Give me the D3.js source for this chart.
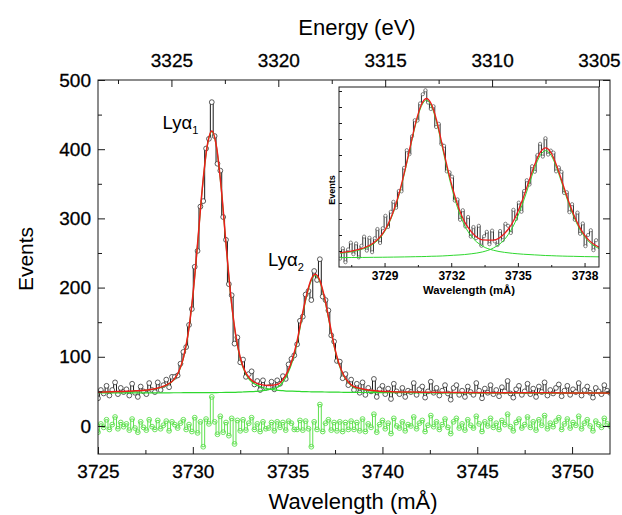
<!DOCTYPE html>
<html><head><meta charset="utf-8">
<script src="https://cdn.jsdelivr.net/npm/d3@7"></script>
<style>body{margin:0;background:#fff} svg text{font-family:"Liberation Sans",Arial,sans-serif}</style>
</head><body><svg id="c" width="622" height="515"></svg>
<script>
// ---------- main spectrum (wavelength grid: start + step, mÅ) ----------
const dataStart = 3725.0, dataStep = 0.15;
const events = [
 40,52,47,58,44,52,63,46,55,49, 53,44,61,48,42,57,50,46,62,52,
 49,63,52,59,67,56,71,71,73,90, 107,114,146,169,230,253,317,325,401,415,
 468,419,379,369,302,269,205,189,119,128, 92,96,71,75,79,60,65,52,66,55,
 56,64,53,66,61,72,68,89,97,102, 118,152,158,190,195,182,224,211,241,187,
 182,167,131,122,94,93,69,75,59,67, 52,61,48,63,45,55,50,68,42,53,
 58,46,54,39,61,50,46,55,42,51, 49,62,45,53,57,41,50,64,48,55,
 44,51,59,47,38,55,59,45,51,42, 57,49,45,62,51,40,54,48,59,46,
 52,43,56,50,65,47,41,53,58,45, 50,61,46,54,42,57,49,63,44,52,
 47,55,60,43,51,58,45,53,49,62, 44,52,57,48,41,55,50,46,59,51, 48];
const residuals = [
 -9,3,-2,9,-5,2,13,-4,5,-1, 3,-6,10,-3,-9,6,-2,-6,9,-1,
 -5,8,-4,1,7,-7,6,2,-3,4, 9,-5,2,-8,12,-10,6,-30,10,3,
 42,6,-12,14,-9,5,-14,11,-26,8, -7,9,-6,4,12,-5,3,-8,6,-4,
 -3,5,-7,6,-2,5,-6,7,4,-5, -5,8,-6,7,-4,-30,6,-5,31,-8,
 4,9,-6,5,-7,6,-8,5,-5,7, -5,5,-7,10,-8,3,-2,17,-9,2,
 8,-4,4,-11,11,0,-3,6,-7,2, 0,13,-4,4,8,-8,1,15,-1,6,
 -5,2,10,-2,-11,6,11,-3,3,-6, 9,1,-3,14,3,-8,6,0,11,-2,
 4,-5,8,2,17,-1,-7,5,10,-3, 2,13,-2,6,-6,9,1,15,-4,4,
 -1,7,12,-5,3,10,-3,5,1,14, -4,4,9,0,-7,7,2,-2,11,3, 0];
const fitLambda = [3725,3726,3727,3727.5,3728,3728.5,3729,3729.25,3729.5,3729.75,3730,3730.25,3730.5,3730.75,3731,3731.25,3731.5,3731.75,3732,3732.25,3732.5,3732.75,3733,3733.5,3734,3734.5,3734.75,3735,3735.25,3735.5,3735.75,3736,3736.25,3736.45,3736.7,3736.95,3737.2,3737.45,3737.7,3737.95,3738.2,3738.45,3738.95,3739.45,3740.5,3742,3744,3746,3748,3750,3752];
const fitTotal = [48.7,49.7,50.8,51.8,53.9,57.9,67,78,98.1,133.1,188.1,263.2,343.2,403.2,426.3,403.3,343.4,263.5,188.6,133.7,99,79.2,68.5,60.5,58.5,60.5,67,78.5,96.3,123,157.7,189.5,212.4,219.3,210.2,185.1,151,116.9,90.8,73.7,63.6,57.5,53.4,51.3,49.6,48.9,48.4,48.1,47.9,47.8,47.7];
const fitPeak1 = [48.5,49.5,50.5,51.5,53.5,57.5,66.5,77.5,97.5,132.5,187.5,262.5,342.5,402.5,425.5,402.5,342.5,262.5,187.5,132.5,97.5,77.5,66.5,57.5,53.5,51.5,51,50.5,50.3,50,49.7,49.5,49.4,49.3,49.2,49.1,49,48.9,48.8,48.7,48.6,48.5,48.4,48.3,48.1,47.9,47.8,47.7,47.6,47.6,47.5];
const fitPeak2 = [47.7,47.7,47.8,47.8,47.9,47.9,48,48,48.1,48.1,48.1,48.2,48.2,48.2,48.3,48.3,48.4,48.5,48.6,48.7,49,49.2,49.5,50.5,52.5,56.5,63.5,75.5,93.5,120.5,155.5,187.5,210.5,217.5,208.5,183.5,149.5,115.5,89.5,72.5,62.5,56.5,52.5,50.5,49,48.5,48.1,47.9,47.8,47.7,47.7];

const xMajor = [3725,3730,3735,3740,3745,3750];
const xMinor = [3727.5,3732.5,3737.5,3742.5,3747.5];
const yMajor = [0,100,200,300,400,500];
const yMinor = [50,150,250,350,450];
const eMajor = [3325,3320,3315,3310,3305];
const eMinor = [3327.5,3322.5,3317.5,3312.5,3307.5];

// ---------- inset spectrum ----------
const insetStart = 3727.0, insetStep = 0.12;
const insetEvents = [
 41,67,32,64,81,52,79,44,73,96, 61,93,57,92,115,80,117,148,120,158,
 183,168,210,209,268,312,302,347,387,386, 429,452,462,431,415,422,370,378,327,323,
 259,257,246,186,189,138,162,121,145,96, 120,92,123,73,97,108,77,111,84,75,
 110,87,128,123,105,163,140,181,158,210, 237,226,272,258,300,328,296,342,301,311,
 306,259,269,258,205,207,157,177,138,156, 103,129,72,100,112,62,87];
const insetFitLambda = [3727.0,3727.5,3728.0,3728.5,3728.9,3729.15,3729.4,3729.65,3729.9,3730.15,3730.4,3730.65,3730.88,3731.1,3731.35,3731.6,3731.85,3732.1,3732.35,3732.6,3732.9,3733.4,3733.9,3734.4,3734.75,3735.0,3735.25,3735.5,3735.75,3736.0,3736.25,3736.5,3736.75,3737.0,3737.25,3737.5,3737.75,3738.0,3738.25,3738.65];
const insetFitTotal = [55.7,59.5,66.4,79.8,102.1,126,159.4,203,258.2,320,380.4,425,441.3,427.8,385.1,324.1,263.4,209.3,165.8,133.1,108.3,88,87.4,103.6,130.1,158.7,194.2,235.1,275.3,306.1,317.7,304.9,272.7,231.3,189.2,152.4,122.2,99.8,84,69.6];
const insetFitPeak1 = [54.2,57.8,64.5,77.6,99.7,123.4,156.6,200,255,316.5,376.6,421,437,423,380,318.5,257,202,157.7,124,97.3,72.4,61.8,56.6,54.2,53,51.9,51.1,50.3,49.5,48.7,48.3,47.7,47.3,46.9,46.7,46.3,46,45.8,45.4];
const insetFitPeak2 = [43.5,43.7,43.9,44.2,44.4,44.6,44.8,45,45.2,45.5,45.8,46,46.3,46.8,47.1,47.6,48.4,49.3,50.1,51.1,53,57.6,67.6,89,117.9,147.7,184.3,226,267,298.6,311,298.6,267,226,184.3,147.7,117.9,95.8,80.2,66.2];
const insetXTicks = [3729,3732,3735,3738];
const insetXMinor = [3727.5,3730.5,3733.5,3736.5];
const insetYTicks = [60,100,140,180,220,260,300,340,380,420,460];

// ---------- drawing ----------
const svg = d3.select("#c");
const M = {l:98, r:610, t:80, b:454};
const x = d3.scaleLinear().domain([3725,3752]).range([M.l,M.r]);
const y = d3.scaleLinear().domain([-40.5,500]).range([M.b,M.t]);
const hc = 12398.42; // eV·Å
const xE = d3.scaleLinear().domain([hc/3.725, hc/3.752]).range([M.l,M.r]);

const RED = "#ee1c1c", GREEN = "#2fd82f", RGREEN = "#5fe04f", INK = "#1a1a1a";

svg.append("defs").append("clipPath").attr("id","clipMain")
  .append("rect").attr("x",M.l).attr("y",M.t).attr("width",M.r-M.l).attr("height",M.b-M.t);

const plot = svg.append("g").attr("clip-path","url(#clipMain)");
const step = d3.line().curve(d3.curveStep);
const smooth = d3.line().curve(d3.curveMonotoneX);

// residuals
const resPts = residuals.map((v,i)=>[x(dataStart+i*dataStep), y(v)]);
plot.append("path").attr("d",step(resPts)).attr("fill","none").attr("stroke",RGREEN).attr("stroke-width",1);
plot.append("g").selectAll("circle").data(resPts).join("circle")
  .attr("cx",d=>d[0]).attr("cy",d=>d[1]).attr("r",2.4)
  .attr("fill","none").attr("stroke",RGREEN).attr("stroke-width",0.9);

// data
const dPts = events.map((v,i)=>[x(dataStart+i*dataStep), y(v)]);
plot.append("path").attr("d",step(dPts)).attr("fill","none").attr("stroke",INK).attr("stroke-width",1);
plot.append("g").selectAll("circle").data(dPts).join("circle")
  .attr("cx",d=>d[0]).attr("cy",d=>d[1]).attr("r",2.4)
  .attr("fill","#fff").attr("stroke","#333").attr("stroke-width",0.8);

// fits
[fitPeak1, fitPeak2].forEach(arr=>{
  plot.append("path").attr("d",smooth(arr.map((v,i)=>[x(fitLambda[i]),y(v)])))
    .attr("fill","none").attr("stroke",GREEN).attr("stroke-width",1.2);
});
plot.append("path").attr("d",smooth(fitTotal.map((v,i)=>[x(fitLambda[i]),y(v)])))
  .attr("fill","none").attr("stroke",RED).attr("stroke-width",1.5);

// axes
function styleAxis(g, fs, bold){
  g.select(".domain").remove();
  g.selectAll("line").attr("stroke",INK).attr("stroke-width",1);
  g.selectAll("text").attr("fill","#000").attr("font-size",fs)
    .attr("font-family","Liberation Sans, Arial, sans-serif").attr("font-weight",bold?"bold":"normal")
    .attr("stroke",bold?"none":"#000").attr("stroke-width",bold?0:0.3);
}
svg.append("g").attr("transform",`translate(0,${M.b})`)
  .call(d3.axisBottom(x).tickValues(xMajor).tickSize(-7).tickPadding(10.5).tickFormat(d3.format("d")))
  .call(g=>styleAxis(g,19));
svg.append("g").attr("transform",`translate(0,${M.b})`)
  .call(d3.axisBottom(x).tickValues(xMinor).tickSize(-4).tickFormat(""))
  .call(g=>styleAxis(g,19));
svg.append("g").attr("transform",`translate(0,${M.t})`)
  .call(d3.axisTop(xE).tickValues(eMajor).tickSize(-7).tickPadding(13).tickFormat(d3.format("d")))
  .call(g=>styleAxis(g,19));
svg.append("g").attr("transform",`translate(0,${M.t})`)
  .call(d3.axisTop(xE).tickValues(eMinor).tickSize(-4).tickFormat(""))
  .call(g=>styleAxis(g,19));
svg.append("g").attr("transform",`translate(${M.l},0)`)
  .call(d3.axisLeft(y).tickValues(yMajor).tickSize(-7).tickPadding(7).tickFormat(d3.format("d")))
  .call(g=>styleAxis(g,19));
svg.append("g").attr("transform",`translate(${M.l},0)`)
  .call(d3.axisLeft(y).tickValues(yMinor).tickSize(-4).tickFormat(""))
  .call(g=>styleAxis(g,19));
svg.append("g").attr("transform",`translate(${M.r},0)`)
  .call(d3.axisRight(y).tickValues(yMajor).tickSize(-7).tickFormat(""))
  .call(g=>styleAxis(g,19));
svg.append("g").attr("transform",`translate(${M.r},0)`)
  .call(d3.axisRight(y).tickValues(yMinor).tickSize(-4).tickFormat(""))
  .call(g=>styleAxis(g,19));
svg.append("rect").attr("x",M.l).attr("y",M.t).attr("width",M.r-M.l).attr("height",M.b-M.t)
  .attr("fill","none").attr("stroke",INK).attr("stroke-width",1);

// axis titles
svg.append("text").attr("x",357).attr("y",35).attr("text-anchor","middle").attr("font-size",22).text("Energy (eV)");
svg.append("text").attr("x",353).attr("y",509).attr("text-anchor","middle").attr("font-size",22).text("Wavelength (mÅ)");
svg.append("text").attr("transform","translate(33,259) rotate(-90)").attr("text-anchor","middle").attr("font-size",21).text("Events");

// peak labels
function lyLabel(px, py, sub){
  const t = svg.append("text").attr("x",px).attr("y",py).attr("font-size",18.6);
  t.append("tspan").text("Lyα");
  t.append("tspan").attr("dy",5).attr("font-size",11).text(sub);
}
lyLabel(162.5,129,"1");
lyLabel(268,266,"2");

// ---------- inset ----------
const I = {l:339, r:599, t:87, b:267};
const ix = d3.scaleLinear().domain([3726.95,3738.65]).range([I.l,I.r]);
const iy = d3.scaleLinear().domain([20,470]).range([I.b,I.t]);
svg.append("rect").attr("x",I.l).attr("y",I.t).attr("width",I.r-I.l).attr("height",I.b-I.t).attr("fill","#fff");
svg.append("defs").append("clipPath").attr("id","clipInset")
  .append("rect").attr("x",I.l).attr("y",I.t).attr("width",I.r-I.l).attr("height",I.b-I.t);
const ip = svg.append("g").attr("clip-path","url(#clipInset)");
const iPts = insetEvents.map((v,i)=>[ix(insetStart+i*insetStep), iy(v)]);
ip.append("path").attr("d",step(iPts)).attr("fill","none").attr("stroke",INK).attr("stroke-width",0.9);
ip.append("g").selectAll("circle").data(iPts).join("circle")
  .attr("cx",d=>d[0]).attr("cy",d=>d[1]).attr("r",1.6)
  .attr("fill","#fff").attr("stroke","#555").attr("stroke-width",0.7);
[insetFitPeak1, insetFitPeak2].forEach(arr=>{
  ip.append("path").attr("d",smooth(arr.map((v,i)=>[ix(insetFitLambda[i]),iy(v)])))
    .attr("fill","none").attr("stroke",GREEN).attr("stroke-width",1);
});
ip.append("path").attr("d",smooth(insetFitTotal.map((v,i)=>[ix(insetFitLambda[i]),iy(v)])))
  .attr("fill","none").attr("stroke",RED).attr("stroke-width",1.3);

svg.append("g").attr("transform",`translate(0,${I.b})`)
  .call(d3.axisBottom(ix).tickValues(insetXTicks).tickSize(-4).tickPadding(4.5).tickFormat(d3.format("d")))
  .call(g=>styleAxis(g,12,true));
svg.append("g").attr("transform",`translate(0,${I.b})`)
  .call(d3.axisBottom(ix).tickValues(insetXMinor).tickSize(-2).tickFormat(""))
  .call(g=>styleAxis(g,12,true));
svg.append("g").attr("transform",`translate(${I.l},0)`)
  .call(d3.axisLeft(iy).tickValues(insetYTicks).tickSize(-3).tickFormat(""))
  .call(g=>styleAxis(g,12,true));
svg.append("rect").attr("x",I.l).attr("y",I.t).attr("width",I.r-I.l).attr("height",I.b-I.t)
  .attr("fill","none").attr("stroke",INK).attr("stroke-width",1);
svg.append("text").attr("x",469).attr("y",294).attr("text-anchor","middle").attr("font-size",11.3).attr("font-weight","bold").text("Wavelength (mÅ)");
svg.append("text").attr("transform","translate(335,190) rotate(-90)").attr("text-anchor","middle").attr("font-size",9).attr("font-weight","bold").text("Events");
</script></body></html>
